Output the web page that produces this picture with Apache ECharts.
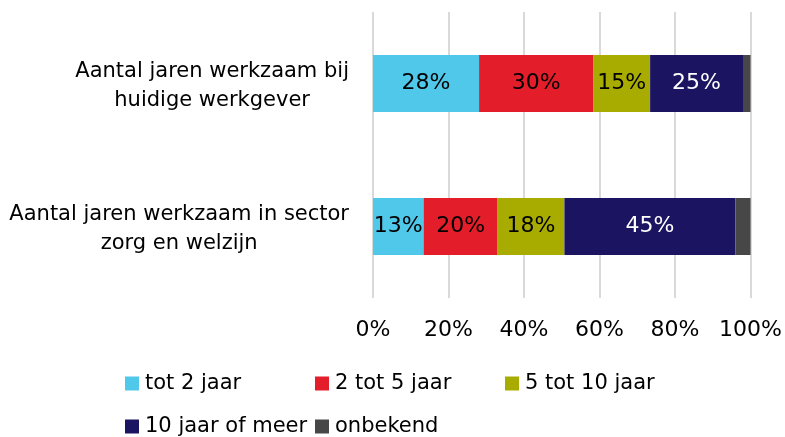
<!DOCTYPE html>
<html>
<head>
<meta charset="utf-8">
<script src="https://cdn.jsdelivr.net/npm/echarts@6/dist/echarts.min.js"></script>
<style>
  html, body { margin: 0; padding: 0; background: #fff; }
  #chart { width: 785px; height: 437px; }
</style>
</head>
<body>
<div id="chart"></div>
<script>
const categories = [
  "Aantal jaren werkzaam bij\nhuidige werkgever",
  "Aantal jaren werkzaam in sector\nzorg en welzijn"
];
const seriesNames = ["tot 2 jaar", "2 tot 5 jaar", "5 tot 10 jaar", "10 jaar of meer", "onbekend"];
const tot2 = [28.1, 13.4];
const tot5 = [30.2, 19.6];
const tot10 = [15.1, 17.7];
const meer10 = [24.6, 45.3];
const onbekend = [2.0, 4.0];
const tickLabels = ["0%", "20%", "40%", "60%", "80%", "100%"];

const colors = ["#50C8E9", "#E31E2A", "#A8AC00", "#1A1461", "#474747"];
const labelColors = ["#000", "#000", "#000", "#fff", null];
const allData = [tot2, tot5, tot10, meer10, onbekend];
const font = "Tahoma, 'DejaVu Sans', sans-serif";

const myChart = echarts.init(document.getElementById("chart"));

// legend items sit on a fixed 190px column grid
const legendPos = [[120, 368], [310, 368], [500, 368], [120, 411], [310, 411]];

const option = {
  animation: false,
  grid: { left: 373, right: 34, top: 12, bottom: 139 },
  xAxis: {
    type: "value",
    min: 0,
    max: 100,
    interval: 20,
    axisLine: { show: false },
    axisTick: { show: false },
    splitLine: { lineStyle: { color: "#D9D9D9", width: 2 } },
    axisLabel: {
      margin: 21,
      fontSize: 22,
      fontFamily: font,
      color: "#000",
      formatter: function (v) { return tickLabels[v / 20]; }
    }
  },
  yAxis: {
    type: "category",
    inverse: true,
    data: categories,
    axisLine: { show: false },
    axisTick: { show: false },
    axisLabel: {
      margin: 24,
      align: "right",
      padding: [6, 0, 0, 0],
      formatter: function (v) {
        return v.split("\n").map(function (l) { return "{c|" + l + "}"; }).join("\n");
      },
      rich: {
        c: { fontSize: 21, lineHeight: 29, fontFamily: font, color: "#000", align: "center" }
      }
    }
  },
  legend: seriesNames.map(function (name, i) {
    return {
      data: [name],
      left: legendPos[i][0],
      top: legendPos[i][1],
      icon: "rect",
      itemWidth: 14,
      itemHeight: 14,
      itemGap: 0,
      textStyle: { fontSize: 21, fontFamily: font, color: "#000", padding: [0, 0, 0, 1] }
    };
  }),
  series: seriesNames.map(function (name, i) {
    return {
      name: name,
      type: "bar",
      stack: "total",
      barWidth: 57,
      data: allData[i],
      itemStyle: { color: colors[i] },
      label: {
        show: labelColors[i] !== null,
        position: "inside",
        fontSize: 22,
        fontFamily: font,
        color: labelColors[i] || "#000",
        formatter: function (p) { return Math.round(p.value) + "%"; }
      }
    };
  })
};

myChart.setOption(option);
</script>
</body>
</html>
